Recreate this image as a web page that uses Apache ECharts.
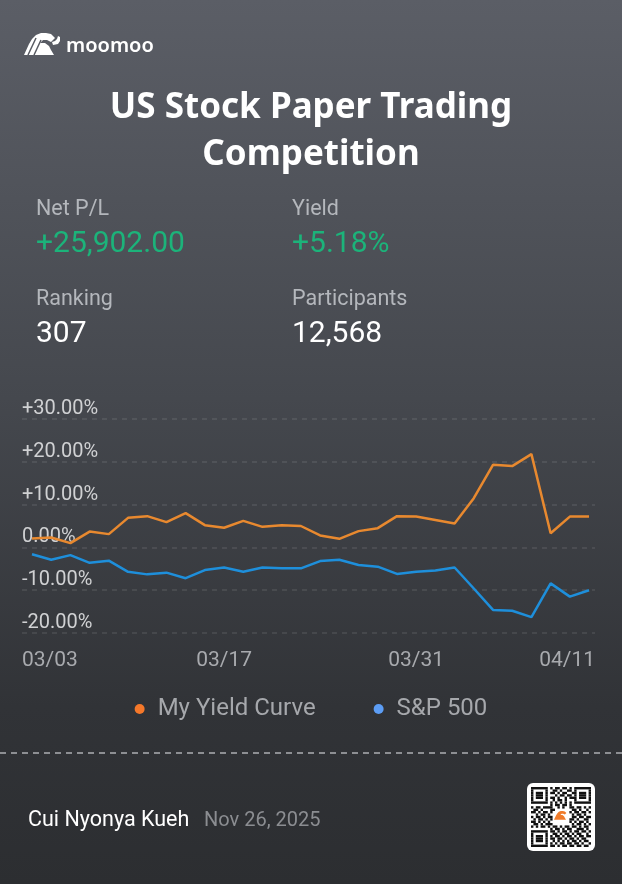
<!DOCTYPE html>
<html>
<head>
<meta charset="utf-8">
<script src="https://cdn.jsdelivr.net/npm/echarts@6/dist/echarts.min.js"></script>
<style>
  html, body { margin: 0; padding: 0; background: #2c2e31; }
  #chart { width: 622px; height: 884px; }
</style>
</head>
<body>
<div id="chart"></div>
<script>
// trading days shown on the curve
const dates = [
  "03/03", "03/04", "03/05", "03/06", "03/07",
  "03/10", "03/11", "03/12", "03/13", "03/14",
  "03/17", "03/18", "03/19", "03/20", "03/21",
  "03/24", "03/25", "03/26", "03/27", "03/28",
  "03/31", "04/01", "04/02", "04/03", "04/04",
  "04/07", "04/08", "04/09", "04/10", "04/11"
];
// cumulative yield, percent
const myYield = [
  2.1, 2.3, 1.0, 3.7, 3.1, 6.9, 7.3, 5.9, 8.0, 5.2,
  4.6, 6.2, 4.8, 5.2, 5.0, 2.8, 2.0, 3.8, 4.5, 7.3,
  7.2, 6.4, 5.6, 11.5, 19.3, 19.0, 21.8, 3.3, 7.2, 7.2
];
const sp500 = [
  -1.6, -2.9, -1.8, -3.6, -3.1, -5.7, -6.3, -5.9, -7.2, -5.3,
  -4.7, -5.7, -4.7, -4.9, -4.9, -3.2, -2.9, -4.1, -4.5, -6.2,
  -5.7, -5.4, -4.7, -9.6, -14.6, -14.8, -16.3, -8.4, -11.5, -10.0
];
const yTicks = [-20, -10, 0, 10, 20, 30];
const xLabelDays = ["03/03", "03/17", "03/31", "04/11"];

const stats = [
  { label: "Net P/L", value: "+25,902.00", color: "#1cb37a" },
  { label: "Yield", value: "+5.18%", color: "#1cb37a" },
  { label: "Ranking", value: "307", color: "#ffffff" },
  { label: "Participants", value: "12,568", color: "#ffffff" }
];

// decorative share qr
const qrRows = [
  "1111111010110110101111111",
  "1000001001101001101000001",
  "1011101011010110011011101",
  "1011101000101101101011101",
  "1011101011010010111011101",
  "1000001001011010001000001",
  "1111111010101010101111111",
  "0000000010110110100000000",
  "1011011110010100110110101",
  "0110100011000000011010010",
  "1101011010000000101101101",
  "0010110100000000010110100",
  "1011010110000000011011011",
  "0101101010000000110100110",
  "1101010100000000101011010",
  "0110101110000000010110101",
  "1010110101101011011010110",
  "0000000010110101100111010",
  "1111111011010110101101101",
  "1000001001101011010110010",
  "1011101010110101101011011",
  "1011101011011010110101100",
  "1011101001010101011010110",
  "1000001010101101101101001",
  "1111111011010110110110110"
];

const FONT = "Roboto, 'Noto Sans', sans-serif";
const bullBody = [[0, 22], [5, 11], [8, 6], [12, 2], [17, 0], [22, 0], [27, 1], [31, 5], [27, 9], [23, 7], [19, 7], [16, 10], [21, 10], [25, 13], [27, 17], [30, 22]];
const bullHorn = [[28, 9], [31, 8], [33, 6], [34, 3], [36, 4], [36, 8], [34, 11], [29, 12]];

function place(pts, ox, oy, k) {
  return pts.map(function (p) { return [ox + p[0] * k, oy + p[1] * k]; });
}

function textEl(x, y, text, font, fill, align) {
  return {
    type: "text",
    silent: true,
    style: {
      x: x, y: y, text: text, font: font, fill: fill,
      textAlign: align || "left", align: align || "left",
      textVerticalAlign: "middle", verticalAlign: "middle"
    }
  };
}

const graphics = [];
// logo
graphics.push({ type: "polygon", shape: { points: place(bullBody, 24, 33, 1) }, style: { fill: "#ffffff" } });
graphics.push({ type: "polygon", shape: { points: place(bullHorn, 24, 33, 1) }, style: { fill: "#ffffff" } });
graphics.push({ type: "line", shape: { x1: 28, y1: 55, x2: 36, y2: 38 }, style: { stroke: "#585b62", lineWidth: 1.5 } });
graphics.push({ type: "line", shape: { x1: 34, y1: 55, x2: 41, y2: 40 }, style: { stroke: "#585b62", lineWidth: 1.5 } });
graphics.push(textEl(66, 46, "moomoo", "600 20px 'Noto Sans', sans-serif", "#ffffff"));
// title
graphics.push(textEl(311, 108, "US Stock Paper Trading", "bold 35px 'Noto Sans', sans-serif", "#ffffff", "center"));
graphics.push(textEl(311, 155, "Competition", "bold 35px 'Noto Sans', sans-serif", "#ffffff", "center"));
// stats block
stats.forEach(function (s, i) {
  const x = i % 2 === 0 ? 36 : 292;
  const y = i < 2 ? 210 : 300;
  graphics.push(textEl(x, y, s.label, "21.5px " + FONT, "#b4b7bc"));
  graphics.push(textEl(x, y + 34, s.value, "30px " + FONT, s.color));
});
// separator and footer
graphics.push({ type: "line", shape: { x1: 0, y1: 753, x2: 622, y2: 753 }, style: { stroke: "#8d8f93", lineWidth: 2, lineDash: [6, 5] } });
graphics.push(textEl(28, 821, "Cui Nyonya Kueh", "21.5px " + FONT, "#ffffff"));
graphics.push(textEl(204, 821, "Nov 26, 2025", "20px " + FONT, "#8b8d91"));
graphics.push({ type: "rect", shape: { x: 527, y: 783, width: 68, height: 68, r: 6 }, style: { fill: "#ffffff" } });
const cell = 2.4;
qrRows.forEach(function (row, r) {
  let c = 0;
  while (c < row.length) {
    if (row[c] === "1") {
      let e = c;
      while (e < row.length && row[e] === "1") e++;
      graphics.push({ type: "rect", shape: { x: 531 + c * cell, y: 787 + r * cell, width: (e - c) * cell, height: cell }, style: { fill: "#111111" } });
      c = e;
    } else {
      c++;
    }
  }
});
graphics.push({ type: "polygon", shape: { points: place(bullBody, 554, 811, 0.4) }, style: { fill: "#f07b2a" } });

const xMin = -0.52;
const xMax = dates.length - 1 + 0.31;

const chart = echarts.init(document.getElementById("chart"), null, { renderer: "canvas" });
chart.setOption({
  animation: false,
  backgroundColor: {
    type: "linear", x: 0, y: 0, x2: 0, y2: 1,
    colorStops: [
      { offset: 0, color: "#5b5e66" },
      { offset: 0.45, color: "#45484e" },
      { offset: 0.8, color: "#313337" },
      { offset: 1, color: "#2c2e31" }
    ]
  },
  graphic: graphics,
  legend: {
    left: "center",
    top: 692,
    icon: "circle",
    itemWidth: 10,
    itemHeight: 10,
    itemGap: 58,
    textStyle: { color: "#a6a8ac", fontSize: 24, fontFamily: FONT, padding: [0, 0, 0, 8] },
    data: [
      { name: "My Yield Curve", itemStyle: { color: "#f5782a" } },
      { name: "S&P 500", itemStyle: { color: "#5c9df5" } }
    ]
  },
  grid: { left: 22, right: 27, top: 419, bottom: 251 },
  xAxis: {
    type: "value",
    min: xMin,
    max: xMax,
    splitLine: { show: false },
    axisLine: { show: false },
    axisTick: { show: false },
    axisLabel: {
      customValues: [xMin, dates.indexOf(xLabelDays[1]), dates.indexOf(xLabelDays[2]), xMax],
      formatter: function (v) {
        const i = Math.max(0, Math.min(dates.length - 1, Math.round(v)));
        return dates[i];
      },
      alignMinLabel: "left",
      alignMaxLabel: "right",
      color: "#a8aaae",
      fontSize: 21,
      fontFamily: FONT,
      margin: 17
    }
  },
  yAxis: {
    type: "value",
    min: yTicks[0],
    max: yTicks[yTicks.length - 1],
    interval: 10,
    axisLine: { show: false },
    axisTick: { show: false },
    splitLine: { lineStyle: { color: "rgba(255,255,255,0.11)", width: 1.5, type: [5, 5] } },
    axisLabel: {
      inside: true,
      margin: 0,
      verticalAlign: "bottom",
      color: "#d0d1d3",
      fontSize: 20,
      fontFamily: FONT,
      formatter: function (v) { return (v > 0 ? "+" : "") + v.toFixed(2) + "%"; }
    }
  },
  series: [
    {
      name: "My Yield Curve",
      type: "line",
      showSymbol: false,
      data: myYield.map(function (v, i) { return [i, v]; }),
      lineStyle: { color: "#e8892f", width: 2.5 },
      itemStyle: { color: "#e8892f" },
      z: 3
    },
    {
      name: "S&P 500",
      type: "line",
      showSymbol: false,
      data: sp500.map(function (v, i) { return [i, v]; }),
      lineStyle: { color: "#1e8fdb", width: 2.5 },
      itemStyle: { color: "#1e8fdb" },
      z: 2
    }
  ]
});
</script>
</body>
</html>
